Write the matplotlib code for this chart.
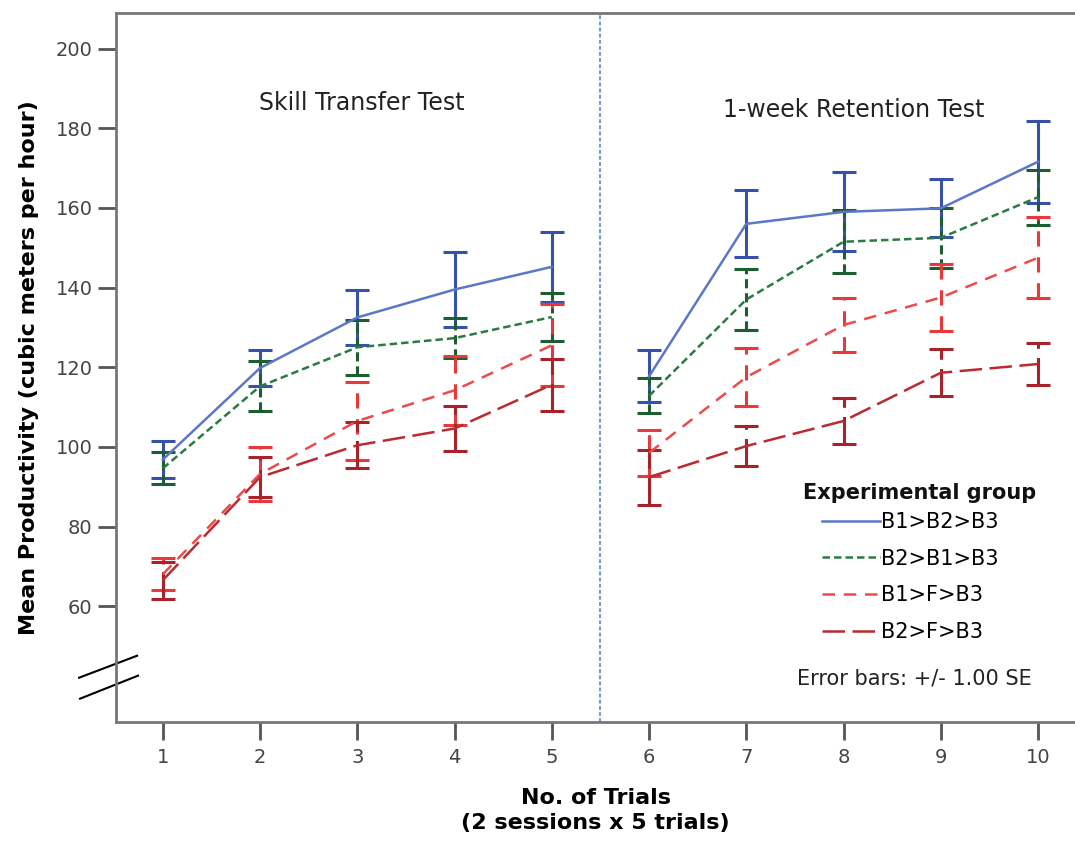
import numpy as np
import matplotlib
matplotlib.use("Agg")
import matplotlib.pyplot as plt
from matplotlib.lines import Line2D

plt.rcParams['font.family'] = ['DejaVu Sans']

trials = np.arange(1, 11)
groups = ["B1>B2>B3", "B2>B1>B3", "B1>F>B3", "B2>F>B3"]

# means and standard errors
mean_b1b2 = [96.8, 119.8, 132.5, 139.5, 145.2, 117.7, 156.0, 159.0, 159.9, 171.6]
se_b1b2 = [4.6, 4.5, 7.0, 9.5, 8.7, 6.5, 8.4, 9.9, 7.3, 10.3]
mean_b2b1 = [94.6, 115.2, 125.0, 127.3, 132.6, 112.8, 137.0, 151.5, 152.5, 162.7]
se_b2b1 = [4.0, 6.3, 6.9, 5.0, 6.0, 4.4, 7.6, 7.9, 7.6, 6.9]
mean_b1f = [68.0, 93.2, 106.5, 114.2, 125.5, 98.5, 117.5, 130.6, 137.5, 147.5]
se_b1f = [4.0, 6.8, 9.7, 8.7, 10.3, 5.8, 7.3, 6.9, 8.5, 10.1]
mean_b2f = [66.5, 92.4, 100.4, 104.6, 115.6, 92.4, 100.2, 106.5, 118.6, 120.8]
se_b2f = [4.6, 5.0, 5.8, 5.6, 6.5, 6.9, 5.0, 5.8, 5.9, 5.2]

means = [mean_b1b2, mean_b2b1, mean_b1f, mean_b2f]
ses = [se_b1b2, se_b2b1, se_b1f, se_b2f]
line_colors = ['#5b78c8', '#2a7a45', '#ee4a4a', '#bb2a30']
bar_colors = ['#3552a8', '#1d5e30', '#e8383a', '#a8222a']
styles = ['-', (0, (3, 1.6)), (0, (5, 3.5)), (0, (9, 3))]
yticks = [60, 80, 100, 120, 140, 160, 180, 200]

fig = plt.figure(figsize=(10.75, 8.52), dpi=100)
ax = fig.add_axes([0.108, 0.153, 0.892, 0.832])

for i in range(len(groups)):
    m = np.array(means[i]); s = np.array(ses[i])
    # two sessions, lines are not joined between trial 5 and 6
    for sl in [slice(0, 5), slice(5, 10)]:
        ax.plot(trials[sl], m[sl], color=line_colors[i], linestyle=styles[i], lw=1.8, zorder=3)
    eb = ax.errorbar(trials, m, yerr=s, fmt='none', ecolor=bar_colors[i], elinewidth=2.2,
                     capsize=8.5, capthick=2.2, zorder=2)
    if i > 0:
        eb[2][0].set_linestyle(styles[i])

ax.axvline(5.5, color='#3f7ad0', lw=1.1, linestyle=(0, (2.5, 1.5)))

ax.set_xlim(0.52, 10.38)
ax.set_ylim(31, 209)
ax.set_xticks(trials)
ax.set_yticks(yticks)
ax.tick_params(axis='both', direction='out', length=13, width=2, color='#555555',
               labelcolor='#444444', labelsize=14, pad=4)
ax.tick_params(axis='x', pad=6)
for sp in ['left', 'bottom', 'top']:
    ax.spines[sp].set_color('#777777')
    ax.spines[sp].set_linewidth(2)
ax.spines['right'].set_visible(False)

ax.set_ylabel('Mean Productivity (cubic meters per hour)', fontsize=16, fontweight='bold', labelpad=12)
ax.set_xlabel('No. of Trials\n(2 sessions x 5 trials)', fontsize=16, fontweight='bold',
              labelpad=15, linespacing=1.35)

ax.text(3.05, 186.3, 'Skill Transfer Test', fontsize=17, ha='center', va='center', color='#222222')
ax.text(8.1, 184.5, '1-week Retention Test', fontsize=17, ha='center', va='center', color='#222222')

# axis break marks
ax.plot([-0.0386, 0.0219], [0.062, 0.093], transform=ax.transAxes, color='black', lw=1.5, clip_on=False)
ax.plot([-0.0376, 0.0229], [0.0324, 0.0649], transform=ax.transAxes, color='black', lw=1.5, clip_on=False)

handles = [Line2D([0], [0], color=line_colors[i], linestyle=styles[i], lw=1.8) for i in range(len(groups))]
fig.text(0.747, 0.421, 'Experimental group', fontsize=15, fontweight='bold', ha='left', va='center', color='#111111')
ax.legend(handles, groups, loc='upper left', bbox_to_anchor=(0.7647, 0.399), bbox_transform=fig.transFigure,
          frameon=False, handlelength=2.8, handletextpad=0.05, labelspacing=0.8, fontsize=15,
          borderaxespad=0, borderpad=0)
fig.text(0.741, 0.204, 'Error bars: +/- 1.00 SE', fontsize=15, ha='left', va='center', color='#222222')

fig.savefig('out.png', dpi=100)
